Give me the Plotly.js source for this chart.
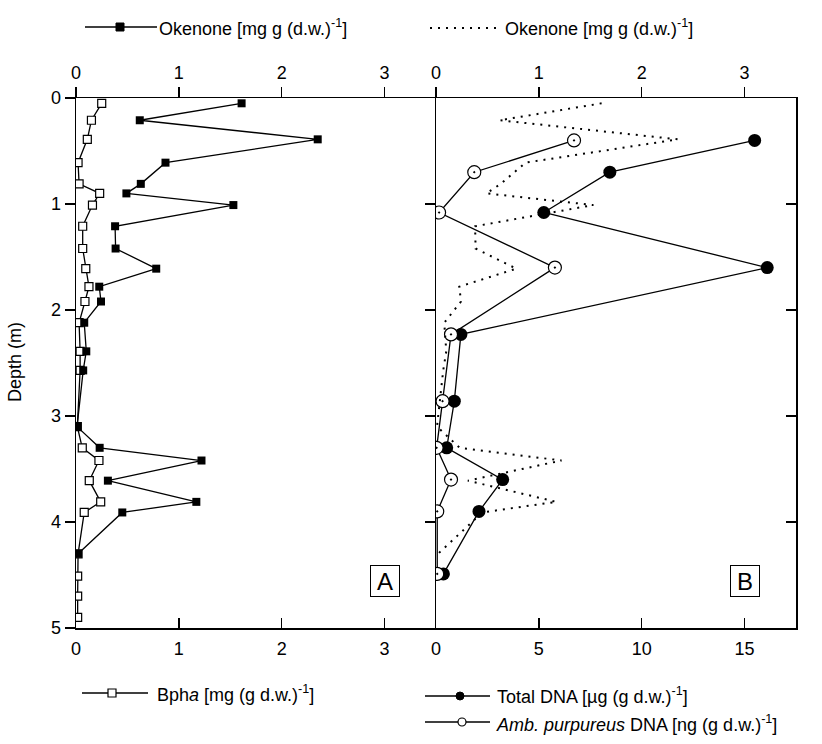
<!DOCTYPE html>
<html>
<head>
<meta charset="utf-8">
<script src="https://cdn.plot.ly/plotly-3.0.1.min.js"></script>
<style>html,body{margin:0;padding:0;background:#fff;}#chart{width:822px;height:744px;}</style>
</head>
<body>
<div id="chart"></div>
<script>
// ---- data ----
const depthOkenone = [0.05,0.21,0.39,0.61,0.81,0.9,1.01,1.21,1.42,1.61,1.78,1.92,2.12,2.39,2.57,3.1,3.3,3.42,3.61,3.81,3.91,4.3];
const okenone = [1.61,0.62,2.35,0.87,0.63,0.49,1.53,0.38,0.385,0.78,0.226,0.243,0.08,0.1,0.07,0.01,0.23,1.22,0.31,1.17,0.45,0.02];
const depthBpha = [0.05,0.21,0.39,0.61,0.81,0.9,1.01,1.21,1.42,1.61,1.78,1.92,2.12,2.39,2.57,3.1,3.3,3.42,3.61,3.81,3.91,4.3,4.51,4.7,4.9];
const bpha = [0.25,0.15,0.11,0.02,0.03,0.23,0.16,0.065,0.065,0.095,0.126,0.087,0.03,0.04,0.04,0.013,0.061,0.223,0.129,0.24,0.08,0.02,0.016,0.016,0.016];
const depthDNA = [0.4,0.7,1.08,1.6,2.23,2.86,3.3,3.6,3.9,4.49];
const totalDNA = [15.49,8.45,5.24,16.1,1.21,0.89,0.52,3.24,2.09,0.36];
const ambDNA = [6.71,1.86,0.15,5.78,0.73,0.32,0.03,0.73,0.06,0.06];
const depthTicks = [0,1,2,3,4,5];
const pigTicks = [0,1,2,3];
const dnaTicks = [0,5,10,15];

// ---- layout helpers (pixel -> paper) ----
const W = 822, H = 744;
const px = v => v / W;
const py = v => 1 - v / H;
const FONT = 'Liberation Sans, Arial, Helvetica, sans-serif';
const domA = [px(76), px(436)];
const domB = [px(436), px(796)];
const domY = [py(628), py(98)];

const traces = [
  {x: okenone, y: depthOkenone, xaxis: 'x2', yaxis: 'y', mode: 'lines+markers',
   line: {color: '#000', width: 1.3},
   marker: {symbol: 'square', size: 8, color: '#000'}},
  {x: bpha, y: depthBpha, xaxis: 'x', yaxis: 'y', mode: 'lines+markers',
   line: {color: '#000', width: 1.3},
   marker: {symbol: 'square', size: 8, color: '#fff', line: {color: '#000', width: 1.2}}},
  {x: okenone, y: depthOkenone, xaxis: 'x4', yaxis: 'y2', mode: 'lines',
   line: {color: '#000', width: 2, dash: '2px,6px'}},
  {x: totalDNA, y: depthDNA, xaxis: 'x3', yaxis: 'y3', mode: 'lines+markers',
   line: {color: '#000', width: 1.3},
   marker: {symbol: 'circle', size: 13, color: '#000'}},
  {x: ambDNA, y: depthDNA, xaxis: 'x3', yaxis: 'y3', mode: 'lines+markers',
   line: {color: '#000', width: 1.3},
   marker: {symbol: 'circle-dot', size: 13, color: '#fff', line: {color: '#000', width: 1.2}}}
];

const axBase = {showgrid: false, zeroline: false, showline: true, linecolor: '#000', linewidth: 1.5,
  tickcolor: '#000', tickwidth: 1.5, ticklen: 10, tickfont: {family: FONT, size: 18, color: '#000'}, fixedrange: true};

const layout = {
  width: W, height: H,
  margin: {l: 0, r: 0, t: 0, b: 0},
  paper_bgcolor: '#fff', plot_bgcolor: 'rgba(0,0,0,0)',
  showlegend: false,
  font: {family: FONT, size: 18, color: '#000'},
  xaxis: Object.assign({}, axBase, {domain: domA, anchor: 'y', side: 'bottom', range: [0, 3.5],
    tickmode: 'array', tickvals: pigTicks, ticks: 'inside', ticklabelstandoff: 4}),
  xaxis2: Object.assign({}, axBase, {overlaying: 'x', anchor: 'y', side: 'top', range: [0, 3.5],
    tickmode: 'array', tickvals: pigTicks, ticks: 'outside'}),
  xaxis3: Object.assign({}, axBase, {domain: domB, anchor: 'y2', side: 'bottom', range: [0, 17.5],
    tickmode: 'array', tickvals: dnaTicks, ticks: 'inside', ticklabelstandoff: 4}),
  xaxis4: Object.assign({}, axBase, {overlaying: 'x3', anchor: 'y2', side: 'top', range: [0, 3.5],
    tickmode: 'array', tickvals: pigTicks, ticks: 'outside'}),
  yaxis: Object.assign({}, axBase, {domain: domY, anchor: 'x', side: 'left', range: [5, 0],
    tickmode: 'array', tickvals: depthTicks, ticks: 'outside'}),
  yaxis2: Object.assign({}, axBase, {domain: domY, anchor: 'x3', side: 'left', range: [5, 0],
    tickmode: 'array', tickvals: [1,2,3,4], ticks: 'outside', showticklabels: false}),
  yaxis3: Object.assign({}, axBase, {overlaying: 'y2', anchor: 'x3', side: 'right', range: [5, 0],
    tickmode: 'array', tickvals: [1,2,3,4], ticks: 'inside', showticklabels: false}),
  shapes: [
    // legend symbols
    {type: 'line', xref: 'paper', yref: 'paper', x0: px(85), x1: px(157), y0: py(27), y1: py(27), line: {color: '#000', width: 1.3}},
    {type: 'rect', xref: 'paper', yref: 'paper', x0: px(116), x1: px(124), y0: py(31), y1: py(23), fillcolor: '#000', line: {color: '#000', width: 1}},
    {type: 'line', xref: 'paper', yref: 'paper', x0: px(430), x1: px(500), y0: py(28), y1: py(28), line: {color: '#000', width: 2, dash: '2px,6px'}},
    {type: 'line', xref: 'paper', yref: 'paper', x0: px(82), x1: px(148), y0: py(693), y1: py(693), line: {color: '#000', width: 1.3}},
    {type: 'rect', xref: 'paper', yref: 'paper', x0: px(108), x1: px(116), y0: py(697), y1: py(689), fillcolor: '#fff', line: {color: '#000', width: 1.2}},
    {type: 'line', xref: 'paper', yref: 'paper', x0: px(425), x1: px(490), y0: py(696), y1: py(696), line: {color: '#000', width: 1.3}},
    {type: 'circle', xref: 'paper', yref: 'paper', x0: px(456), x1: px(464), y0: py(700), y1: py(692), fillcolor: '#000', line: {color: '#000', width: 1}},
    {type: 'line', xref: 'paper', yref: 'paper', x0: px(425), x1: px(490), y0: py(722), y1: py(722), line: {color: '#000', width: 1.3}},
    {type: 'circle', xref: 'paper', yref: 'paper', x0: px(458), x1: px(466), y0: py(726), y1: py(718), fillcolor: '#fff', line: {color: '#000', width: 1.2}}
  ],
  annotations: [
    {xref: 'paper', yref: 'paper', x: px(157), y: py(28), xanchor: 'left', yanchor: 'middle', showarrow: false,
     text: 'Okenone [mg g (d.w.)<sup>-1</sup>]', font: {family: FONT, size: 18, color: '#000'}},
    {xref: 'paper', yref: 'paper', x: px(503), y: py(28), xanchor: 'left', yanchor: 'middle', showarrow: false,
     text: 'Okenone [mg g (d.w.)<sup>-1</sup>]', font: {family: FONT, size: 18, color: '#000'}},
    {xref: 'paper', yref: 'paper', x: px(155), y: py(693), xanchor: 'left', yanchor: 'middle', showarrow: false,
     text: 'Bph<i>a</i> [mg (g d.w.)<sup>-1</sup>]', font: {family: FONT, size: 18, color: '#000'}},
    {xref: 'paper', yref: 'paper', x: px(495), y: py(695), xanchor: 'left', yanchor: 'middle', showarrow: false,
     text: 'Total DNA [µg (g d.w.)<sup>-1</sup>]', font: {family: FONT, size: 18, color: '#000'}},
    {xref: 'paper', yref: 'paper', x: px(494), y: py(723), xanchor: 'left', yanchor: 'middle', showarrow: false,
     text: '<i>Amb. purpureus</i> DNA [ng (g d.w.)<sup>-1</sup>]', font: {family: FONT, size: 18, color: '#000'}},
    {xref: 'paper', yref: 'paper', x: px(15), y: py(362), xanchor: 'center', yanchor: 'middle', showarrow: false,
     textangle: -90, text: 'Depth (m)', font: {family: FONT, size: 18, color: '#000'}},
    {xref: 'paper', yref: 'paper', x: px(385), y: py(581), xanchor: 'center', yanchor: 'middle', showarrow: false,
     text: 'A', width: 26, height: 28, borderpad: 1, bordercolor: '#000', borderwidth: 1, bgcolor: '#fff',
     font: {family: FONT, size: 24, color: '#000'}},
    {xref: 'paper', yref: 'paper', x: px(745), y: py(581), xanchor: 'center', yanchor: 'middle', showarrow: false,
     text: 'B', width: 26, height: 28, borderpad: 1, bordercolor: '#000', borderwidth: 1, bgcolor: '#fff',
     font: {family: FONT, size: 24, color: '#000'}}
  ]
};

Plotly.newPlot('chart', traces, layout, {staticPlot: true, displayModeBar: false});
</script>
</body>
</html>
